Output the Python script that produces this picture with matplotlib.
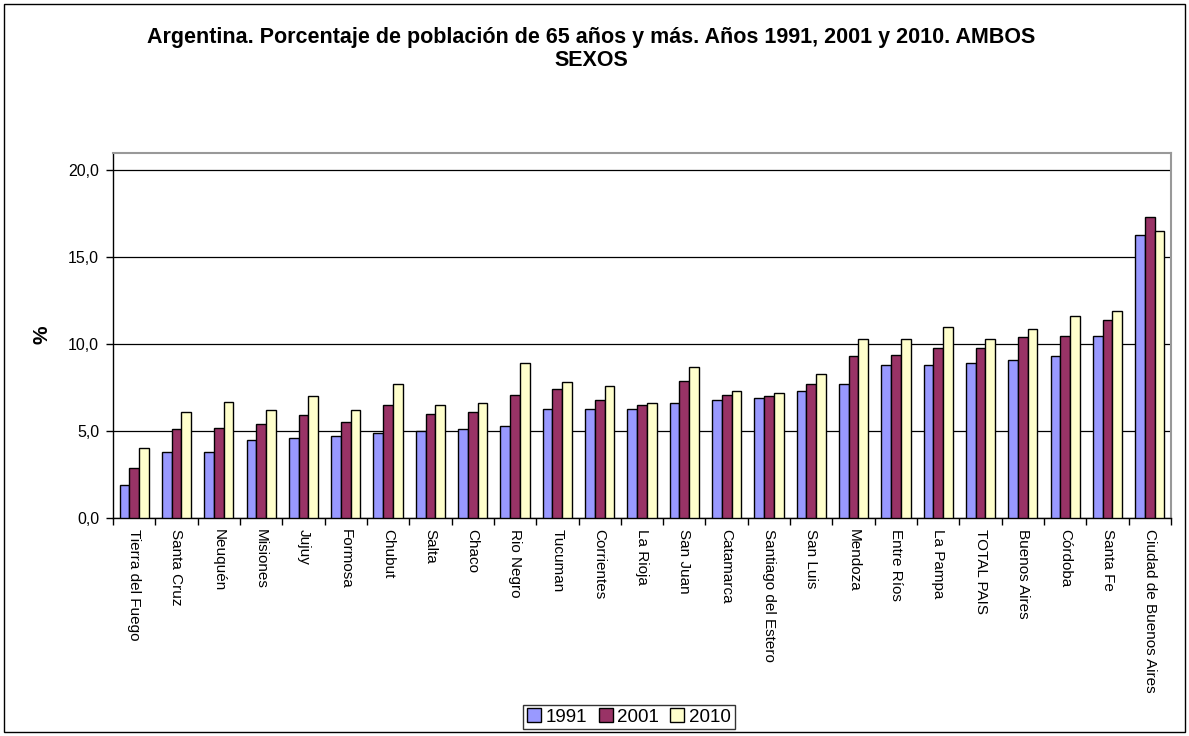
import numpy as np
import matplotlib.pyplot as plt
from matplotlib.patches import Rectangle

plt.rcParams['font.family'] = ['Liberation Sans', 'DejaVu Sans']

provincias = ['Tierra del Fuego', 'Santa Cruz', 'Neuquén', 'Misiones', 'Jujuy', 'Formosa',
              'Chubut', 'Salta', 'Chaco', 'Rio Negro', 'Tucuman', 'Corrientes', 'La Rioja',
              'San Juan', 'Catamarca', 'Santiago del Estero', 'San Luis', 'Mendoza',
              'Entre Ríos', 'La Pampa', 'TOTAL PAIS', 'Buenos Aires', 'Córdoba', 'Santa Fe',
              'Ciudad de Buenos Aires']
v1991 = [1.9, 3.8, 3.8, 4.5, 4.6, 4.7, 4.9, 5.0, 5.1, 5.3, 6.3, 6.3, 6.3, 6.6, 6.8, 6.9, 7.3,
         7.7, 8.8, 8.8, 8.9, 9.1, 9.3, 10.5, 16.3]
v2001 = [2.9, 5.1, 5.2, 5.4, 5.9, 5.5, 6.5, 6.0, 6.1, 7.1, 7.4, 6.8, 6.5, 7.9, 7.1, 7.0, 7.7,
         9.3, 9.4, 9.8, 9.8, 10.4, 10.5, 11.4, 17.3]
v2010 = [4.0, 6.1, 6.7, 6.2, 7.0, 6.2, 7.7, 6.5, 6.6, 8.9, 7.8, 7.6, 6.6, 8.7, 7.3, 7.2, 8.3,
         10.3, 10.3, 11.0, 10.3, 10.9, 11.6, 11.9, 16.5]
series = ['1991', '2001', '2010']
colores = ['#9999ff', '#993366', '#ffffcc']

fig = plt.figure(figsize=(11.89, 7.36), dpi=100)
ax = fig.add_axes([113 / 1189, 1 - 518 / 736, (1171 - 113) / 1189, (518 - 153) / 736])

x = np.arange(len(provincias))
ancho = 0.23
for i, (vals, col, lab) in enumerate(zip([v1991, v2001, v2010], colores, series)):
    ax.bar(x + (i - 1) * ancho, vals, ancho, color=col, edgecolor='black', linewidth=1.0,
           label=lab, zorder=3)

ax.set_xlim(-0.5, len(provincias) - 0.5)
ax.set_ylim(0, 21)
ax.set_yticks([0, 5, 10, 15, 20])
ax.set_yticklabels(['0,0', '5,0', '10,0', '15,0', '20,0'], fontsize=11.5)
ax.yaxis.grid(True, color='black', linewidth=0.9, zorder=0)
ax.tick_params(axis='y', direction='out', length=5, width=1, pad=5)

ax.set_xticks(x)
ax.set_xticklabels(provincias, rotation=270, fontsize=11, va='top', ha='center')
ax.set_xticks(np.arange(len(provincias) + 1) - 0.5, minor=True)
ax.tick_params(axis='x', which='major', length=0, pad=8)
ax.tick_params(axis='x', which='minor', direction='out', length=5, width=1)

for lado in ['top', 'right']:
    ax.spines[lado].set_color('#999999')
    ax.spines[lado].set_linewidth(1.5)
for lado in ['left', 'bottom']:
    ax.spines[lado].set_color('black')
    ax.spines[lado].set_linewidth(1.0)

fig.text(42 / 1189, 1 - 335 / 736, '%', rotation=90, ha='center', va='center',
         fontsize=15, fontweight='bold')

fig.text(0.497, 1 - 49 / 736,
         'Argentina. Porcentaje de población de 65 años y más. Años 1991, 2001 y 2010. AMBOS\nSEXOS',
         ha='center', va='center', fontsize=15.5, fontweight='bold', linespacing=1.15)

ley = fig.legend(loc='center', bbox_to_anchor=(629 / 1189, 1 - 717 / 736), ncol=3,
                 fontsize=13.5, frameon=True, fancybox=False, edgecolor='black',
                 handlelength=0.75, handleheight=0.75, handletextpad=0.25, columnspacing=0.6,
                 borderpad=0.2)
ley.get_frame().set_linewidth(1.0)

fig.patches.append(Rectangle((4 / 1189, 4 / 736), 1181 / 1189, 728 / 736, transform=fig.transFigure,
                             fill=False, edgecolor='black', linewidth=1.0))

fig.savefig('out.png', dpi=100)
